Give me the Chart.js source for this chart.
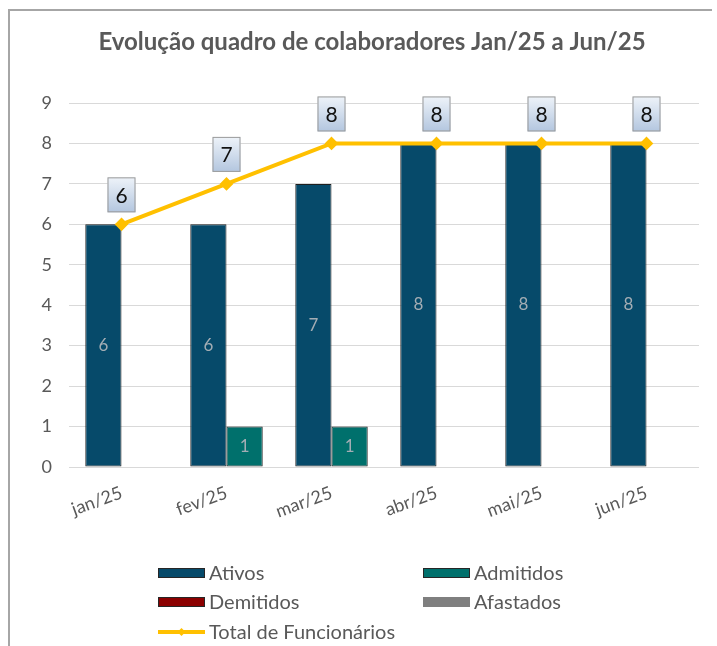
<!DOCTYPE html>
<html>
<head>
<meta charset="utf-8">
<script src="https://cdn.jsdelivr.net/npm/chart.js@4.4.0/dist/chart.umd.min.js"></script>
<style>
  body { margin: 0; background: #fff; }
  #wrap { position: relative; width: 717px; height: 646px; }
</style>
</head>
<body>
<div id="wrap"><canvas id="chart1"></canvas></div>
<script>
const categories = ["jan/25", "fev/25", "mar/25", "abr/25", "mai/25", "jun/25"];
const ativos = [6, 6, 7, 8, 8, 8];
const admitidos = [0, 1, 1, 0, 0, 0];
const demitidos = [0, 0, 0, 0, 0, 0];
const afastados = [0, 0, 0, 0, 0, 0];
const totalFuncionarios = [6, 7, 8, 8, 8, 8];
const yMin = 0;
const yMax = 9;
const chartTitle = "Evolução quadro de colaboradores Jan/25 a Jun/25";

const FONT = "Lato, 'Open Sans', sans-serif";
const GREY_TEXT = "#595959";

// title, frame and legend drawn by hand so they sit where the original has them
const customDraw = {
  id: "customDraw",
  beforeDraw(chart) {
    const ctx = chart.ctx;
    ctx.save();
    ctx.strokeStyle = "#a6a6a6";
    ctx.lineWidth = 2;
    ctx.beginPath();
    ctx.moveTo(9, 646);
    ctx.lineTo(9, 10);
    ctx.lineTo(712, 10);
    ctx.stroke();
    ctx.restore();
  },
  afterDraw(chart) {
    const ctx = chart.ctx;
    ctx.save();
    ctx.fillStyle = GREY_TEXT;
    ctx.font = "bold 24px " + FONT;
    ctx.textAlign = "center";
    ctx.textBaseline = "middle";
    ctx.fillText(chartTitle, 372, 42);

    // legend
    const slots = [[158, 573], [423, 573], [158, 602], [423, 602], [158, 632]];
    ctx.font = "20px " + FONT;
    ctx.textAlign = "left";
    chart.data.datasets.forEach(function (ds, i) {
      const [x, y] = slots[i];
      if (ds.type === "line") {
        ctx.strokeStyle = ds.borderColor;
        ctx.lineWidth = 4;
        ctx.beginPath();
        ctx.moveTo(x, y);
        ctx.lineTo(x + 47, y);
        ctx.stroke();
        ctx.fillStyle = ds.borderColor;
        ctx.beginPath();
        ctx.moveTo(x + 23.5, y - 4);
        ctx.lineTo(x + 27.5, y);
        ctx.lineTo(x + 23.5, y + 4);
        ctx.lineTo(x + 19.5, y);
        ctx.closePath();
        ctx.fill();
      } else {
        ctx.fillStyle = ds.backgroundColor;
        ctx.fillRect(x, y - 5, 47, 10);
        if (ds.legendBorder) {
          ctx.strokeStyle = "#262626";
          ctx.lineWidth = 1;
          ctx.strokeRect(x + 0.5, y - 4.5, 46, 9);
        }
      }
      ctx.fillStyle = GREY_TEXT;
      ctx.fillText(ds.label, x + 51, y + 1);
    });
    ctx.restore();
  },
  afterDatasetsDraw(chart) {
    const ctx = chart.ctx;
    ctx.save();
    ctx.textAlign = "center";
    ctx.textBaseline = "middle";
    chart.data.datasets.forEach(function (ds, i) {
      const meta = chart.getDatasetMeta(i);
      if (meta.hidden) return;
      meta.data.forEach(function (el, j) {
        const v = ds.data[j];
        if (!v) return;
        if (ds.type === "line") {
          const w = 28, h = 35;
          const bx = el.x - w / 2;
          const by = el.y - 12 - h;
          const g = ctx.createLinearGradient(0, by, 0, by + h);
          g.addColorStop(0, "#eef3f9");
          g.addColorStop(1, "#b3c6df");
          ctx.fillStyle = g;
          ctx.fillRect(bx, by, w, h);
          ctx.strokeStyle = "#9a9a9a";
          ctx.lineWidth = 1;
          ctx.strokeRect(bx + 0.5, by + 0.5, w - 1, h - 1);
          ctx.fillStyle = "#111";
          ctx.font = "21px " + FONT;
          ctx.fillText(v, el.x, by + h / 2 + 1);
        } else if (ds.valueLabels) {
          ctx.fillStyle = "#a3adb4";
          ctx.font = "17px " + FONT;
          ctx.fillText(v, el.x, (el.y + el.base) / 2);
        }
      });
    });
    ctx.restore();
  }
};

const ctx = document.getElementById("chart1").getContext("2d");
const myChart = new Chart(ctx, {
  data: {
    labels: categories,
    datasets: [
      {
        type: "bar",
        label: "Ativos",
        data: ativos,
        backgroundColor: "#064a6a",
        borderColor: "#1f1f1f",
        borderWidth: 1,
        borderSkipped: false,
        legendBorder: true,
        valueLabels: true,
        stack: "a",
        order: 1,
      },
      {
        type: "bar",
        label: "Admitidos",
        data: admitidos,
        backgroundColor: "#00706c",
        borderColor: "#1f1f1f",
        borderWidth: 1,
        borderSkipped: false,
        legendBorder: true,
        valueLabels: true,
        stack: "b",
        order: 1,
      },
      {
        type: "bar",
        label: "Demitidos",
        data: demitidos,
        backgroundColor: "#8b0000",
        borderWidth: 0,
        legendBorder: true,
        stack: "a",
        order: 2,
      },
      {
        type: "bar",
        label: "Afastados",
        data: afastados,
        backgroundColor: "#7f7f7f",
        borderWidth: 0,
        legendBorder: false,
        stack: "b",
        order: 2,
      },
      {
        type: "line",
        label: "Total de Funcionários",
        data: totalFuncionarios,
        borderColor: "#ffc000",
        backgroundColor: "#ffc000",
        borderWidth: 4,
        pointStyle: "rectRot",
        pointRadius: 4,
        pointHoverRadius: 4,
        tension: 0,
        order: 0,
      },
    ],
  },
  options: {
    responsive: true,
    maintainAspectRatio: false,
    animation: false,
    categoryPercentage: 0.69,
    barPercentage: 1,
    layout: {
      padding: { left: 0, right: 18, top: 103, bottom: 120 },
    },
    plugins: {
      legend: { display: false },
      title: { display: false },
      tooltip: { enabled: false },
    },
    scales: {
      x: {
        grid: { display: false, drawTicks: false },
        border: { display: false },
        ticks: {
          color: GREY_TEXT,
          font: { family: FONT, size: 18 },
          minRotation: 20,
          maxRotation: 20,
          padding: 15,
        },
        afterFit(scale) { scale.height = 59; },
      },
      y: {
        min: yMin,
        max: yMax,
        ticks: {
          stepSize: 1,
          color: GREY_TEXT,
          font: { family: FONT, size: 18 },
          padding: 17,
        },
        grid: { color: "#d9d9d9", drawTicks: false },
        border: { display: false },
        afterFit(scale) { scale.width = 69; },
      },
    },
  },
  plugins: [customDraw],
});
</script>
</body>
</html>
